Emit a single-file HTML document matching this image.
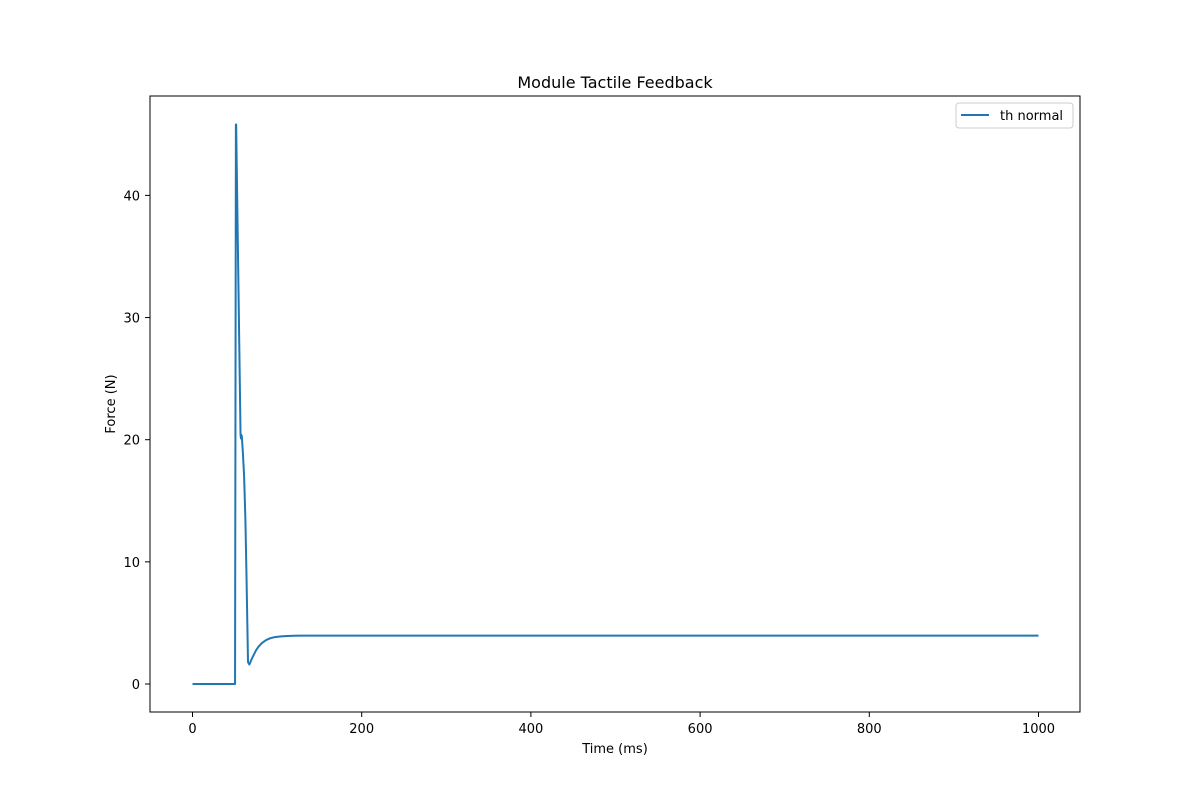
<!DOCTYPE html>
<html><head><meta charset="utf-8"><style>
body{margin:0;background:#fff;}
svg{display:block;font-family:"DejaVu Sans","Liberation Sans",sans-serif;}
</style></head><body>
<svg id="chart" width="1200" height="800">
<rect width="1200" height="800" fill="#fff"/>
<text x="615" y="88" font-size="16" text-anchor="middle">Module Tactile Feedback</text>
<g id="ticks"></g>
<path id="line" fill="none" stroke="#1f77b4" stroke-width="2" stroke-linejoin="round"/>
<rect x="150" y="96" width="930" height="616" fill="none" stroke="#000" stroke-width="1"/>
<text x="615" y="753" font-size="13" text-anchor="middle">Time (ms)</text>
<text x="115" y="404" font-size="13" text-anchor="middle" transform="rotate(-90 115 404)">Force (N)</text>
<g>
<rect x="956" y="103" width="117" height="25" rx="3" fill="#fff" stroke="#ccc"/>
<line x1="961" y1="115" x2="989" y2="115" stroke="#1f77b4" stroke-width="2"/>
<text x="1000" y="120" font-size="13">th normal</text>
</g>
</svg>
<script>
const times=[0,50.3,51.3,51.6,56.8,57.3,57.6,58.3,59.5,61,62.5,63.8,64.8,65.6,67.2,68.5,70,72.5,75,78,82,87,92,98,105,112,120,130,140,170,250,1000];
const forces=[0,0,45.8,45.8,20.4,20.1,20.4,20.3,19,17,13.5,9,5,1.8,1.6,1.8,2.05,2.4,2.75,3.05,3.35,3.6,3.75,3.85,3.9,3.93,3.95,3.96,3.96,3.96,3.96,3.96];
const xTicks=[0,200,400,600,800,1000];
const yTicks=[0,10,20,30,40];
const X=t=>192.5+t*0.846;
const Y=v=>684-v*12.215;
const g=document.getElementById('ticks');
const NS='http://www.w3.org/2000/svg';
xTicks.forEach(t=>{
 const l=document.createElementNS(NS,'line');
 l.setAttribute('x1',X(t));l.setAttribute('x2',X(t));l.setAttribute('y1',712);l.setAttribute('y2',717);l.setAttribute('stroke','#000');
 
 
 g.appendChild(l);
 const tx=document.createElementNS(NS,'text');
 tx.setAttribute('x',X(t));tx.setAttribute('y',733);tx.setAttribute('font-size','13');tx.setAttribute('text-anchor','middle');
 tx.textContent=t;
 
 
 g.appendChild(tx);
});
yTicks.forEach(v=>{
 const l=document.createElementNS(NS,'line');
 l.setAttribute('x1',145);l.setAttribute('x2',150);l.setAttribute('y1',Y(v));l.setAttribute('y2',Y(v));l.setAttribute('stroke','#000');
 
 
 g.appendChild(l);
 const tx=document.createElementNS(NS,'text');
 tx.setAttribute('x',140);tx.setAttribute('y',Y(v)+5);tx.setAttribute('font-size','13');tx.setAttribute('text-anchor','end');
 tx.textContent=v;
 
 
 g.appendChild(tx);
});
document.getElementById('line').setAttribute('d',times.map((t,i)=>(i?'L':'M')+X(t).toFixed(2)+' '+Y(forces[i]).toFixed(2)).join(' '));
</script>
</body></html>
